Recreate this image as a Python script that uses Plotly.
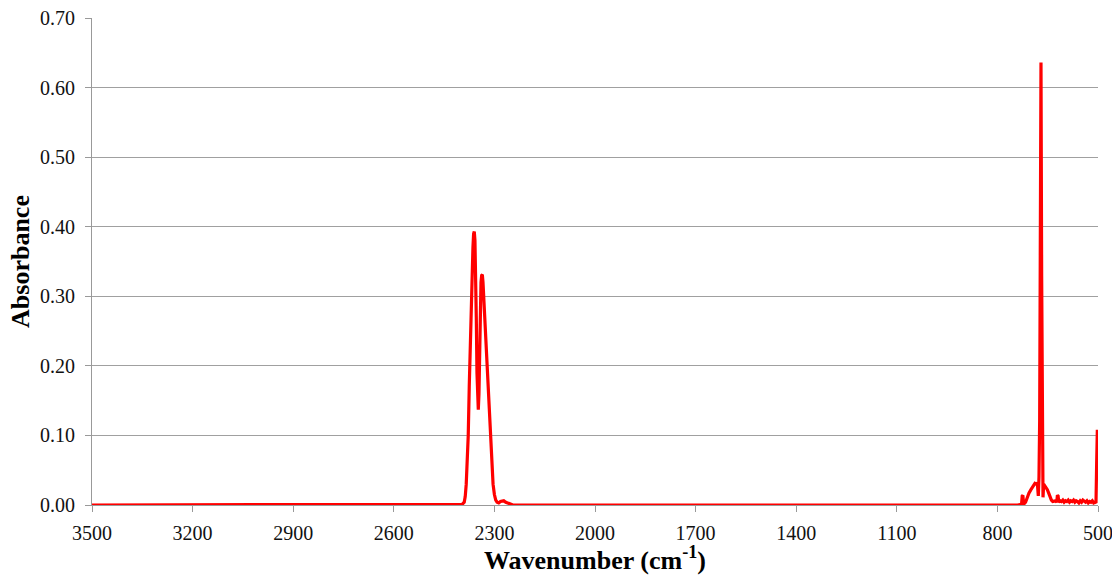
import plotly.graph_objects as go

# Wavenumber (cm-1) and absorbance
wavenumber = [
    3500, 2420, 2396, 2390, 2387, 2384, 2381, 2378, 2375, 2371, 2367, 2364, 2362,
    2360, 2358, 2356, 2354, 2352, 2350, 2348, 2346, 2344, 2342, 2340, 2338, 2336,
    2334, 2332, 2329, 2325, 2321, 2316, 2311, 2307, 2304, 2300, 2296, 2292, 2287,
    2282, 2277, 2272, 2266, 2258, 2245,
    740, 728, 726, 724, 722, 720, 716, 712, 706, 700, 694, 688, 684, 681, 678,
    676, 674, 672, 670, 668, 666, 664, 662, 659, 655, 651, 647, 643, 639, 635,
    631, 627, 623, 621, 619, 617, 613, 609, 605, 601, 597, 593, 589, 585, 581,
    577, 573, 569, 565, 561, 557, 553, 549, 545, 541, 537, 533, 529, 525, 521,
    517, 513, 509, 506, 504, 502, 500,
]
absorbance = [
    0.0, 0.0, 0.001, 0.004, 0.012, 0.03, 0.06, 0.1, 0.17, 0.26, 0.33, 0.37, 0.39,
    0.393, 0.38, 0.34, 0.27, 0.19, 0.15, 0.137, 0.16, 0.23, 0.29, 0.32, 0.33, 0.331,
    0.32, 0.3, 0.26, 0.22, 0.18, 0.13, 0.1, 0.06, 0.03, 0.015, 0.007, 0.004, 0.003,
    0.005, 0.006, 0.006, 0.004, 0.002, 0.0,
    0.0, 0.001, 0.013, 0.014, 0.002, 0.002, 0.004, 0.01, 0.017, 0.022, 0.027, 0.031, 0.03,
    0.032, 0.013, 0.04, 0.12, 0.36, 0.636, 0.33, 0.09, 0.011, 0.03, 0.028, 0.026,
    0.022, 0.017, 0.011, 0.007, 0.005, 0.005, 0.006, 0.004, 0.014, 0.013, 0.004,
    0.006, 0.005, 0.007, 0.004, 0.006, 0.005, 0.007, 0.004, 0.006, 0.005, 0.007,
    0.004, 0.006, 0.005, 0.003, 0.006, 0.004, 0.007, 0.005, 0.004, 0.006, 0.003,
    0.005, 0.004, 0.006, 0.003, 0.004, 0.003, 0.06, 0.108,
]

x_ticks = [3500, 3200, 2900, 2600, 2300, 2000, 1700, 1400, 1100, 800, 500]
y_ticks = [0.0, 0.1, 0.2, 0.3, 0.4, 0.5, 0.6, 0.7]

fig = go.Figure()
fig.add_trace(go.Scatter(
    x=wavenumber, y=absorbance, mode="lines",
    line=dict(color="#FF0000", width=3.2),
    showlegend=False,
))

font_family = "Liberation Serif"
fig.update_layout(
    width=1112, height=575,
    margin=dict(l=92, r=14, t=18, b=70),
    paper_bgcolor="white", plot_bgcolor="white",
    font=dict(family=font_family, color="black", size=20),
    xaxis=dict(
        range=[3500, 500],
        tickvals=x_ticks,
        ticktext=[str(v) for v in x_ticks],
        ticks="outside", ticklen=6, tickcolor="#999999",
        showline=True, linecolor="#999999", linewidth=1,
        showgrid=False, zeroline=False, automargin=False,
        ticklabelstandoff=4, ticklabeloverflow="allow",
        tickfont=dict(family=font_family, size=20, color="#111111"),
        title=dict(text="<b>Wavenumber (cm<sup>-1</sup>)</b>",
                   font=dict(family=font_family, size=26), standoff=6),
    ),
    yaxis=dict(
        range=[0, 0.7],
        tickvals=y_ticks,
        ticktext=[f"{v:.2f}" for v in y_ticks],
        ticks="outside", ticklen=6, tickcolor="#999999",
        showline=True, linecolor="#999999", linewidth=1,
        showgrid=True, gridcolor="#A0A0A0", gridwidth=1,
        zeroline=False, automargin=False,
        ticklabelstandoff=6, ticklabeloverflow="allow",
        tickfont=dict(family=font_family, size=20, color="#111111"),
        title=dict(text="<b>Absorbance</b>",
                   font=dict(family=font_family, size=26), standoff=2),
    ),
)

fig.write_html("out.html", config={"displayModeBar": False})
